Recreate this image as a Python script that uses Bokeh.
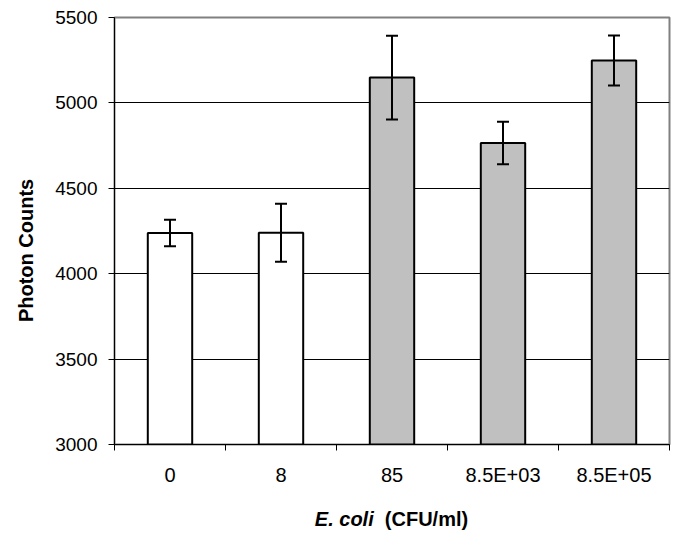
from bokeh.plotting import figure
from bokeh.models import (ColumnDataSource, FixedTicker, Range1d, Whisker, TeeHead, Div)
from bokeh.layouts import column
from bokeh.embed import file_html
from bokeh.resources import INLINE

# ---- data ----
categories = ["0", "8", "85", "8.5E+03", "8.5E+05"]
means = [4238, 4240, 5148, 4765, 5248]
errors = [78, 170, 245, 124, 146]
fill_colors = ["#FFFFFF", "#FFFFFF", "#C0C0C0", "#C0C0C0", "#C0C0C0"]
y_ticks = [3000, 3500, 4000, 4500, 5000, 5500]
grid_ticks = [3500, 4000, 4500, 5000]
y_title = "Photon Counts"
x_title_italic = "E. coli"
x_title_rest = "(CFU/ml)"

FONT = "Liberation Sans"

xs = [i + 0.5 for i in range(len(categories))]
src = ColumnDataSource(dict(
    x=xs, top=means,
    upper=[m + e for m, e in zip(means, errors)],
    lower=[m - e for m, e in zip(means, errors)],
    color=fill_colors,
))

p = figure(width=686, height=500, output_backend="svg", toolbar_location=None,
           x_range=Range1d(0, len(categories)), y_range=Range1d(y_ticks[0], y_ticks[-1]),
           min_border_left=114, min_border_right=17, min_border_top=17, min_border_bottom=56)
p.background_fill_color = "white"
p.border_fill_color = "white"
p.outline_line_color = "#808080"
p.outline_line_width = 2

p.vbar(x="x", top="top", bottom=y_ticks[0], width=0.4, source=src,
       fill_color="color", line_color="black", line_width=2)

wh = Whisker(source=src, base="x", upper="upper", lower="lower",
             line_color="black", line_width=2, level="overlay",
             upper_head=TeeHead(size=12, line_width=2, line_color="black"),
             lower_head=TeeHead(size=12, line_width=2, line_color="black"))
p.add_layout(wh)

# grid
p.xgrid.visible = False
p.ygrid.ticker = FixedTicker(ticks=grid_ticks)
p.ygrid.grid_line_color = "black"
p.ygrid.grid_line_width = 1
p.ygrid.grid_line_alpha = 1.0

# x axis
xa = p.xaxis[0]
xa.ticker = FixedTicker(ticks=xs, minor_ticks=list(range(len(categories) + 1)))
xa.major_label_overrides = {x: c for x, c in zip(xs, categories)}
xa.major_tick_in = 0
xa.major_tick_out = 0
xa.minor_tick_in = 0
xa.minor_tick_out = 6
xa.minor_tick_line_color = "black"
xa.axis_line_color = "black"
xa.major_label_text_font = FONT
xa.major_label_text_font_size = "20px"
xa.major_label_text_color = "black"
xa.major_label_standoff = 13

# y axis
ya = p.yaxis[0]
ya.ticker = FixedTicker(ticks=y_ticks)
ya.major_tick_in = 0
ya.major_tick_out = 6
ya.minor_tick_line_color = None
ya.axis_line_color = "black"
ya.major_tick_line_color = "black"
ya.major_label_text_font = FONT
ya.major_label_text_font_size = "19px"
ya.major_label_text_color = "black"
ya.major_label_standoff = 11
# trailing no-break spaces shift the centred title slightly downwards, as in the original
ya.axis_label = y_title + "\u00a0" * 7
ya.axis_label_text_font = FONT
ya.axis_label_text_font_style = "bold"
ya.axis_label_text_font_size = "20px"
ya.axis_label_text_color = "black"
ya.axis_label_standoff = 15

# x title (mixed styles) as HTML text below the plot
xtitle = Div(
    text=f"<b><i>{x_title_italic}</i>&nbsp; {x_title_rest}</b>",
    width=686, height=45, margin=(0, 0, 0, 0),
    styles={"font-family": "'Liberation Sans', Arial, sans-serif", "font-size": "20px",
            "color": "black", "text-align": "center", "padding-left": "114px",
            "padding-right": "17px", "padding-top": "5px", "box-sizing": "border-box",
            "width": "686px", "background": "white"},
)

layout = column(p, xtitle, spacing=0)
open("out.html", "w").write(file_html(layout, INLINE))
